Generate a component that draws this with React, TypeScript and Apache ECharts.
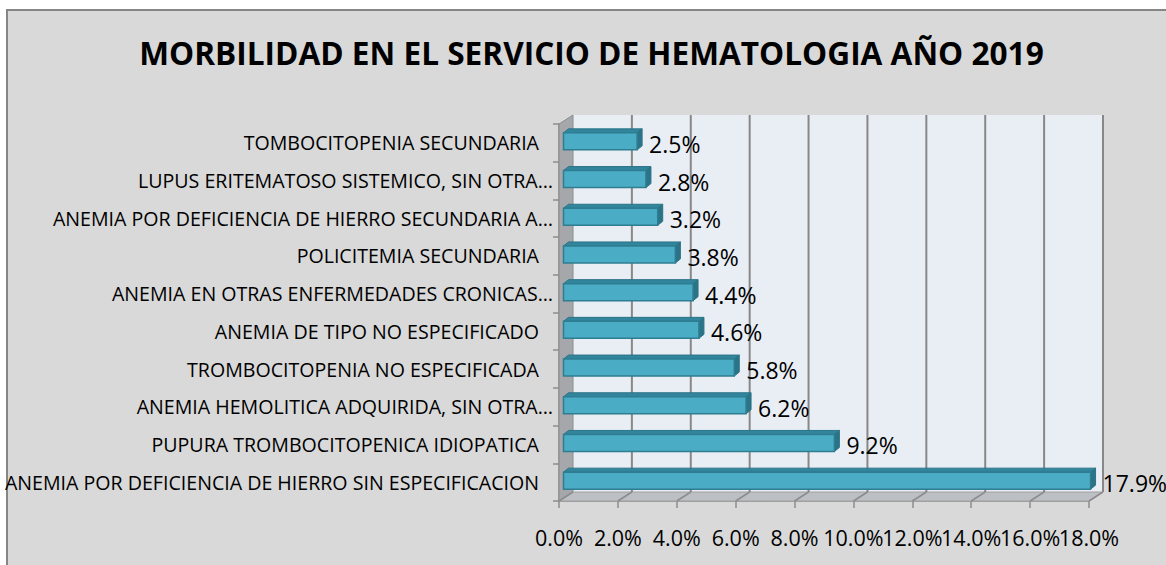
import React, { useEffect, useRef } from "react";
import * as echarts from "echarts";

const title = "MORBILIDAD EN EL SERVICIO DE HEMATOLOGIA AÑO 2019";
const categories = [
  "TOMBOCITOPENIA SECUNDARIA",
  "LUPUS ERITEMATOSO SISTEMICO, SIN OTRA…",
  "ANEMIA POR DEFICIENCIA DE HIERRO SECUNDARIA A…",
  "POLICITEMIA SECUNDARIA",
  "ANEMIA EN OTRAS ENFERMEDADES CRONICAS…",
  "ANEMIA DE TIPO NO ESPECIFICADO",
  "TROMBOCITOPENIA NO ESPECIFICADA",
  "ANEMIA HEMOLITICA ADQUIRIDA, SIN OTRA…",
  "PUPURA TROMBOCITOPENICA IDIOPATICA",
  "ANEMIA POR DEFICIENCIA DE HIERRO SIN ESPECIFICACION",
];
const values = [2.5, 2.8, 3.2, 3.8, 4.4, 4.6, 5.8, 6.2, 9.2, 17.9];
const xTicks = [0, 2, 4, 6, 8, 10, 12, 14, 16, 18];

const FONT = "'Open Sans', 'Liberation Sans', sans-serif";
const DX = 14;
const DY = -9;

export default function App() {
  const ref = useRef<HTMLDivElement>(null);
  useEffect(() => {
    if (!ref.current) return;
    const chart = echarts.init(ref.current, undefined, { renderer: "svg" });
    const option: any = {
      animation: false,
      backgroundColor: "#ffffff",
      graphic: [
        {
          type: "rect",
          z: -10,
          shape: { x: 7, y: 10, width: 1170, height: 570 },
          style: { fill: "#D9D9D9", stroke: "#868686", lineWidth: 2 },
        },
        {
          type: "text",
          x: 591.5,
          y: 52,
          style: {
            text: title,
            font: `bold 31.6px ${FONT}`,
            fill: "#000",
            align: "center",
            verticalAlign: "middle",
          },
        },
      ],
      grid: { left: 559, top: 124, width: 530, height: 377, containLabel: false },
      xAxis: {
        type: "value",
        min: 0,
        max: 18,
        interval: 2,
        axisLine: { show: true, lineStyle: { color: "#8C8C8C", width: 1.5 } },
        axisTick: { show: true, length: 7, lineStyle: { color: "#8C8C8C", width: 1.5 } },
        splitLine: { show: false },
        axisLabel: { show: false },
      },
      yAxis: {
        type: "category",
        inverse: true,
        data: categories,
        axisLine: { show: true, lineStyle: { color: "#8C8C8C", width: 1.5 } },
        axisTick: { show: true, length: 6, lineStyle: { color: "#8C8C8C", width: 1.5 } },
        axisLabel: {
          margin: 6,
          color: "#000",
          fontFamily: FONT,
          fontSize: 19.6,
          hideOverlap: false,
          interval: 0,
          formatter: (v: string) => (v.endsWith("…") ? `{a|${v}}` : `{b|${v}}`),
          rich: {
            a: { fontFamily: FONT, fontSize: 19.6, color: "#000" },
            b: { fontFamily: FONT, fontSize: 19.6, color: "#000", padding: [0, 14, 0, 0] },
          },
        },
      },
      series: [
        {
          type: "custom",
          name: "walls",
          z: 1,
          silent: true,
          data: [[0, 0]],
          renderItem: (params: any, api: any) => {
            const cs = params.coordSys;
            const x0 = cs.x;
            const y0 = cs.y;
            const x1 = cs.x + cs.width;
            const y1 = cs.y + cs.height;
            const children: any[] = [];
            children.push({
              type: "rect",
              shape: { x: x0 + DX, y: y0 + DY, width: cs.width, height: cs.height },
              style: { fill: "#E9EEF5" },
            });
            children.push({
              type: "polygon",
              shape: { points: [[x0, y0], [x0 + DX, y0 + DY], [x0 + DX, y1 + DY], [x0, y1]] },
              style: { fill: "#A5A7AA", stroke: "#8C8C8C", lineWidth: 1 },
            });
            children.push({
              type: "polygon",
              shape: { points: [[x0, y1], [x1, y1], [x1 + DX, y1 + DY], [x0 + DX, y1 + DY]] },
              style: { fill: "#BCBFC3", stroke: "#A0A0A0", lineWidth: 1 },
            });
            xTicks.forEach((t) => {
              const px = api.coord([t, 0])[0];
              if (t > 0) {
                children.push({
                  type: "line",
                  shape: { x1: px + DX, y1: y0 + DY, x2: px + DX, y2: y1 + DY },
                  style: { stroke: "#888888", lineWidth: 2 },
                });
              }
              children.push({
                type: "line",
                shape: { x1: px, y1: y1, x2: px + DX, y2: y1 + DY },
                style: { stroke: "#8C8C8C", lineWidth: 1.5 },
              });
              children.push({
                type: "text",
                x: px,
                y: y1 + 36,
                style: {
                  text: t.toFixed(1) + "%",
                  font: `21.5px ${FONT}`,
                  fill: "#000",
                  align: "center",
                  verticalAlign: "middle",
                },
              });
            });
            return { type: "group", children };
          },
        },
        {
          type: "custom",
          name: "Morbilidad",
          z: 3,
          data: values.map((v, i) => [v, i]),
          renderItem: (params: any, api: any) => {
            const v = api.value(0);
            const ci = api.value(1);
            const [xe, yc] = api.coord([v, ci]);
            const xs = api.coord([0, ci])[0];
            const bx0 = xs + 4.5;
            const bx1 = xe + 4.5;
            const h = 17;
            const top = yc - 1.5 - h / 2;
            const ddx = 5;
            const ddy = -4;
            return {
              type: "group",
              children: [
                {
                  type: "polygon",
                  shape: {
                    points: [[bx0, top], [bx1, top], [bx1 + ddx, top + ddy], [bx0 + ddx, top + ddy]],
                  },
                  style: { fill: "#31859C", stroke: "#2C7487", lineWidth: 1 },
                },
                {
                  type: "polygon",
                  shape: {
                    points: [[bx1, top], [bx1 + ddx, top + ddy], [bx1 + ddx, top + h + ddy], [bx1, top + h]],
                  },
                  style: { fill: "#2B7386", stroke: "#2C7487", lineWidth: 1 },
                },
                {
                  type: "rect",
                  shape: { x: bx0, y: top, width: bx1 - bx0, height: h },
                  style: { fill: "#4BACC6", stroke: "#2E7D91", lineWidth: 1.5 },
                },
                {
                  type: "text",
                  x: bx1 + ddx + 7,
                  y: yc + 1,
                  style: {
                    text: v.toFixed(1) + "%",
                    font: `23px ${FONT}`,
                    fill: "#000",
                    align: "left",
                    verticalAlign: "middle",
                  },
                },
              ],
            };
          },
        },
      ],
    };
    chart.setOption(option);
    return () => chart.dispose();
  }, []);
  return (
    <div
      ref={ref}
      style={{ position: "fixed", left: 0, top: 0, width: 1166, height: 565 }}
    />
  );
}
